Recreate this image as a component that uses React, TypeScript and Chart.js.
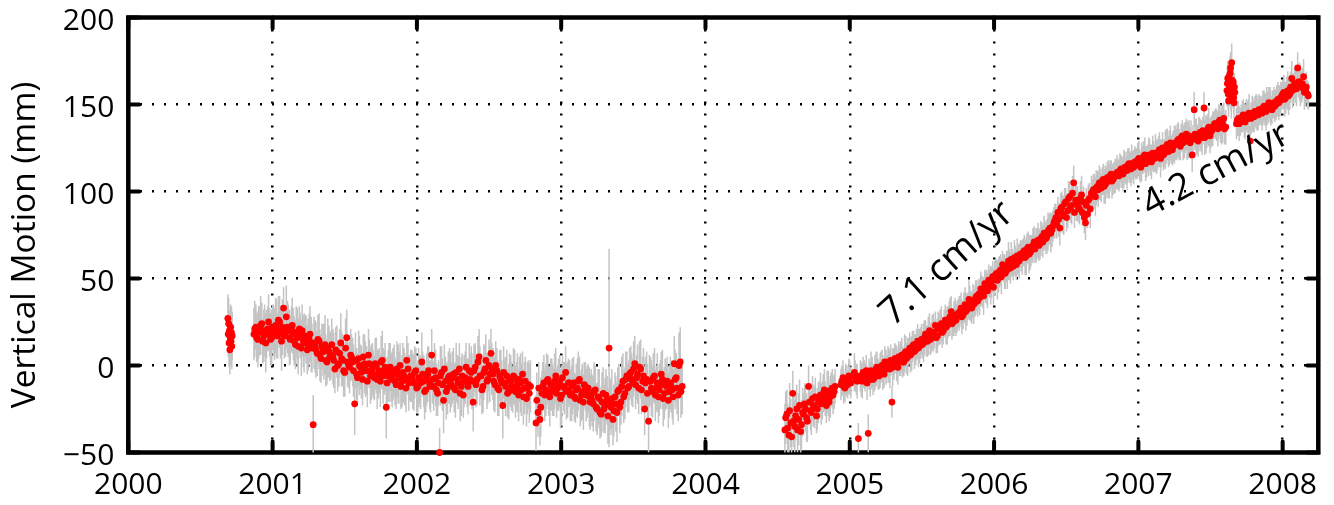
import React, { useEffect, useRef } from 'react';
import { Chart, registerables } from 'chart.js';

Chart.register(...registerables);

// ---- axis / label data ----
const yearTicks = [2000, 2001, 2002, 2003, 2004, 2005, 2006, 2007, 2008];
const motionTicks = [-50, 0, 50, 100, 150, 200];
const xMin = 2000;
const xMax = 2008.247;
const yMin = -50;
const yMax = 200;
const yAxisTitle = 'Vertical Motion (mm)';
const rateLabelEarly = '7.1 cm/yr';
const rateLabelLate = '4.2 cm/yr';
const DAYS_PER_YEAR = 365.25;

// ---- segment A: short campaign late 2000 (days since 2000-01-01) ----
const segADays = [252, 253, 254, 255, 256, 257, 258, 259, 260, 261, 262, 263];
const segAMm = [27, 18, 24, 13, 20, 9, 16, 22, 14, 19, 11, 17];
const segAErr = [14, 13, 15, 14, 12, 14, 16, 13, 14, 15, 13, 14];

// ---- segment B: late 2000 to late 2003 ----
const segBDays = [
  318, 323, 328, 333, 338, 343, 348, 353, 358, 363,
  368, 373, 378, 383, 388, 393, 398, 403, 408, 413,
  418, 423, 428, 433, 438, 443, 448, 453, 458, 463,
  468, 473, 478, 483, 488, 493, 498, 503, 508, 513,
  518, 523, 528, 533, 538, 543, 548, 553, 558, 563,
  568, 573, 578, 583, 588, 593, 598, 603, 608, 613,
  618, 623, 628, 633, 638, 643, 648, 653, 658, 663,
  668, 673, 678, 683, 688, 693, 698, 703, 708, 713,
  718, 723, 728, 733, 738, 743, 748, 753, 758, 763,
  768, 773, 778, 783, 788, 793, 798, 803, 808, 813,
  818, 823, 828, 833, 838, 843, 848, 853, 858, 863,
  868, 873, 878, 883, 888, 893, 898, 903, 908, 913,
  918, 923, 928, 933, 938, 943, 948, 953, 958, 963,
  968, 973, 978, 983, 988, 993, 998, 1003, 1008, 1013,
  1018, 1032, 1037, 1042, 1047, 1052, 1057, 1062, 1067,
  1072, 1077, 1082, 1087, 1092, 1097, 1102, 1107, 1112, 1117,
  1122, 1127, 1132, 1137, 1142, 1147, 1152, 1157, 1162, 1167,
  1172, 1177, 1182, 1187, 1192, 1197, 1202, 1207, 1212, 1217,
  1222, 1227, 1232, 1237, 1242, 1247, 1252, 1257, 1262, 1267,
  1272, 1277, 1282, 1287, 1292, 1297, 1302, 1307, 1312, 1317,
  1322, 1327, 1332, 1337, 1342, 1347, 1352, 1357, 1362, 1367,
  1372, 1377, 1382, 1387, 1392, 1397, 1402,
];
const segBMm = [
  18, 22, 15, 20, 24, 17, 13, 21, 19, 16,
  20, 23, 17, 25, 14, 33, 19, 22, 16, 21,
  18, 12, 16, 21, 10, 14, 17, 9, 15, 12,
  -34, 11, 7, 14, 4, 9, 12, 2, 8, 6,
  5, -2, 8, 1, 13, 3, -4, 16, 0, 6,
  2, -22, -5, 4, -1, -8, 1, -3, 6, -6,
  -2, -7, 0, -5, -9, 3, -4, -24, -6, -1,
  -8, -3, -11, -5, 0, -9, -6, -13, -2, -7,
  -6, -10, -3, -12, -8, 2, -9, -14, -5, -11,
  6, -12, -7, -16, -50, -4, -20, -9, -13, -6,
  -11, -5, -14, -8, -2, -12, -17, -7, -10, -3,
  -4, -21, -1, -8, 5, -6, -12, -2, -9, 0,
  7, -5, -11, -3, -14, -8, -23, -10, -6, -15,
  -9, -14, -7, -12, -17, -10, -5, -13, -19, -11,
  -12, -33, -27, -31, -16, -10, -14, -8, -18,
  -11, -15, -6, -13, -9, -17, -12, -4, -14, -10,
  -16, -10, -19, -13, -8, -17, -21, -12, -15, -18,
  -17, -22, -14, -25, -19, -28, -16, -23, -20, 10,
  -24, -31, -18, -27, -14, -21, -9, -16, -6, -12,
  -4, -10, 1, -7, -13, -2, -9, -25, -8, -32,
  -9, -15, -6, -13, -18, -11, -8, -16, -12, -20,
  -10, -14, 1, -7, -17, 2, -12,
];
const segBErr = [
  15, 13, 16, 14, 12, 15, 17, 13, 14, 16,
  14, 16, 13, 15, 17, 12, 14, 15, 16, 13,
  15, 14, 17, 13, 16, 15, 12, 14, 15, 16,
  17, 15, 13, 16, 14, 15, 17, 13, 15, 14,
  16, 14, 15, 13, 17, 15, 14, 16, 13, 15,
  14, 18, 15, 16, 13, 15, 17, 14, 15, 16,
  15, 13, 16, 14, 15, 17, 13, 18, 15, 14,
  16, 15, 14, 17, 13, 15, 16, 14, 15, 13,
  15, 16, 13, 15, 14, 17, 15, 13, 16, 14,
  15, 14, 16, 13, 14, 15, 19, 14, 15, 16,
  13, 15, 16, 14, 15, 17, 13, 15, 14, 16,
  15, 17, 14, 15, 16, 13, 15, 14, 16, 15,
  14, 15, 16, 13, 15, 17, 19, 14, 15, 16,
  15, 13, 16, 14, 15, 17, 13, 15, 16, 14,
  15, 16, 14, 15, 13, 16, 15, 14, 17,
  15, 14, 16, 13, 15, 17, 14, 15, 16, 13,
  16, 15, 14, 17, 13, 15, 16, 14, 15, 17,
  15, 16, 14, 15, 17, 13, 15, 16, 14, 57,
  16, 15, 14, 17, 15, 13, 16, 15, 14, 15,
  15, 14, 16, 13, 15, 17, 14, 15, 16, 18,
  14, 15, 16, 13, 15, 14, 17, 15, 13, 16,
  15, 17, 16, 14, 15, 20, 16,
];
// in-between daily solutions for segment B
const segB2Days = [
  320, 325, 330, 335, 340, 345, 350, 355, 360, 365,
  370, 375, 380, 385, 390, 395, 400, 405, 410, 415,
  420, 425, 430, 435, 440, 445, 450, 455, 460, 465,
  470, 475, 480, 485, 490, 495, 500, 505, 510, 515,
  520, 525, 530, 535, 540, 545, 550, 555, 560, 565,
  570, 575, 580, 585, 590, 595, 600, 605, 610, 615,
  620, 625, 630, 635, 640, 645, 650, 655, 660, 665,
  670, 675, 680, 685, 690, 695, 700, 705, 710, 715,
  720, 725, 730, 735, 740, 745, 750, 755, 760, 765,
  770, 775, 780, 785, 790, 795, 800, 805, 810, 815,
  820, 825, 830, 835, 840, 845, 850, 855, 860, 865,
  870, 875, 880, 885, 890, 895, 900, 905, 910, 915,
  920, 925, 930, 935, 940, 945, 950, 955, 960, 965,
  970, 975, 980, 985, 990, 995, 1000, 1005, 1010, 1015,
  1034, 1039, 1044, 1049, 1054, 1059, 1064, 1069,
  1074, 1079, 1084, 1089, 1094, 1099, 1104, 1109, 1114, 1119,
  1124, 1129, 1134, 1139, 1144, 1149, 1154, 1159, 1164, 1169,
  1174, 1179, 1184, 1189, 1194, 1199, 1204, 1209, 1214, 1219,
  1224, 1229, 1234, 1239, 1244, 1249, 1254, 1259, 1264, 1269,
  1274, 1279, 1284, 1289, 1294, 1299, 1304, 1309, 1314, 1319,
  1324, 1329, 1334, 1339, 1344, 1349, 1354, 1359, 1364, 1369,
  1374, 1379, 1384, 1389, 1394, 1399,
];
const segB2Mm = [
  21, 16, 19, 23, 14, 20, 18, 25, 15, 22,
  18, 21, 26, 19, 22, 17, 28, 20, 15, 23,
  14, 19, 11, 17, 20, 13, 15, 12, 18, 10,
  13, 9, 15, 6, 11, 8, 3, 10, 5, 12,
  3, 9, 0, 7, 4, -3, 10, 2, -1, 5,
  -3, 3, -7, 0, -4, 5, -2, -9, 1, -4,
  -5, 1, -8, -3, 2, -6, -1, -10, -4, -7,
  -5, -9, -2, -7, -12, -4, -8, 3, -10, -6,
  -9, -4, -13, -7, -10, -5, -15, -8, -3, -12,
  -8, -3, -14, -10, -6, -11, -2, -15, -7, -10,
  -7, -13, -4, -10, -16, -6, -9, -1, -12, -8,
  -9, -3, -11, 2, -6, -14, -4, 3, -8, -5,
  -2, -9, 0, -13, -6, -10, -4, -12, -16, -8,
  -12, -6, -15, -10, -8, -14, -18, -9, -13, -16,
  -20, -13, -24, -12, -17, -9, -15, -11,
  -14, -9, -16, -11, -19, -7, -13, -15, -10, -17,
  -12, -18, -14, -9, -20, -15, -11, -17, -13, -21,
  -20, -15, -24, -18, -27, -21, -25, -17, -29, -22,
  -19, -26, -22, -15, -24, -12, -18, -8, -13, -5,
  -8, -2, -11, -5, -1, -14, -6, -10, -16, -9,
  -13, -7, -17, -10, -14, -5, -19, -11, -9, -15,
  -12, -18, -8, -13, 0, -15,
];
const segB2Err = [
  16, 14, 15, 17, 13, 15, 14, 16, 15, 13,
  15, 17, 14, 15, 16, 13, 18, 15, 14, 16,
  14, 15, 16, 13, 15, 17, 14, 15, 16, 14,
  15, 16, 14, 15, 13, 16, 15, 17, 14, 15,
  16, 13, 15, 14, 16, 15, 17, 14, 15, 13,
  15, 16, 14, 17, 15, 13, 16, 15, 14, 16,
  14, 15, 17, 13, 15, 16, 14, 15, 17, 14,
  15, 14, 16, 15, 13, 17, 15, 14, 16, 15,
  16, 15, 14, 17, 15, 13, 16, 15, 14, 15,
  14, 16, 15, 13, 17, 15, 14, 16, 15, 17,
  15, 14, 17, 15, 16, 13, 15, 14, 16, 15,
  16, 15, 13, 15, 17, 14, 16, 15, 14, 16,
  15, 17, 14, 16, 15, 13, 15, 17, 14, 15,
  14, 16, 15, 17, 13, 15, 16, 14, 15, 17,
  16, 15, 17, 14, 15, 16, 14, 15,
  15, 16, 14, 15, 17, 13, 15, 16, 14, 15,
  16, 14, 15, 17, 15, 16, 13, 15, 14, 16,
  15, 17, 14, 16, 15, 17, 14, 15, 16, 15,
  17, 15, 16, 14, 15, 17, 15, 16, 14, 15,
  15, 16, 14, 17, 15, 14, 16, 15, 17, 15,
  16, 14, 15, 17, 15, 13, 16, 15, 14, 15,
  15, 16, 17, 15, 19, 15,
];

// ---- segment C: mid/late 2004 ----
const segCDays = [
  1662, 1667, 1672, 1677, 1682, 1687, 1692, 1697, 1702, 1707,
  1712, 1717, 1722, 1727, 1732, 1737, 1742, 1747, 1752, 1757,
  1762, 1767, 1772, 1777, 1782, 1787,
];
const segCMm = [
  -37, -28, -40, -33, -16, -35, -25, -31, -38, -27,
  -22, -30, -12, -26, -19, -24, -29, -21, -17, -20,
  -14, -23, -16, -18, -13, -15,
];
const segCErr = [
  15, 14, 16, 14, 13, 15, 14, 15, 13, 14,
  12, 14, 12, 11, 13, 12, 10, 12, 13, 11,
  12, 10, 13, 12, 11, 10,
];
const segC2Days = [
  1664, 1669, 1674, 1679, 1684, 1689, 1694, 1699, 1704, 1709,
  1714, 1719, 1724, 1729, 1734, 1739, 1744, 1749, 1754, 1759,
  1764, 1769, 1774, 1779, 1784, 1789,
];
const segC2Mm = [
  -30, -36, -26, -41, -32, -29, -37, -23, -34, -28,
  -25, -32, -21, -27, -23, -18, -25, -20, -22, -16,
  -19, -15, -21, -14, -17, -12,
];
const segC2Err = [
  15, 14, 16, 13, 15, 14, 13, 15, 14, 12,
  13, 12, 11, 13, 12, 11, 12, 10, 12, 11,
  10, 12, 11, 10, 11, 10,
];

// ---- segment D: 2005 to early 2008 ----
const segDDays = [
  1804, 1809, 1814, 1819, 1824, 1829, 1838, 1843, 1848,
  1853, 1858, 1863, 1868, 1873, 1878, 1883, 1888, 1893, 1898,
  1903, 1908, 1913, 1918, 1923, 1928, 1933, 1938, 1943, 1948,
  1953, 1958, 1963, 1968, 1973, 1978, 1983, 1988, 1993, 1998,
  2003, 2008, 2013, 2018, 2023, 2028, 2033, 2038, 2043, 2048,
  2053, 2058, 2063, 2068, 2073, 2078, 2083, 2088, 2093, 2098,
  2103, 2108, 2113, 2118, 2123, 2128, 2133, 2138, 2143, 2148,
  2153, 2158, 2163, 2168, 2173, 2178, 2183, 2188, 2193, 2198,
  2203, 2208, 2213, 2218, 2223, 2228, 2233, 2238, 2243, 2248,
  2253, 2258, 2263, 2268, 2273, 2278, 2283, 2288, 2293, 2298,
  2303, 2308, 2313, 2318, 2323, 2328, 2333, 2338, 2343, 2348,
  2353, 2358, 2363, 2368, 2373, 2378, 2383, 2388, 2393, 2398,
  2403, 2408, 2413, 2418, 2423, 2428, 2433, 2438, 2443, 2448,
  2453, 2458, 2463, 2468, 2473, 2478, 2483, 2488, 2493, 2498,
  2503, 2508, 2513, 2518, 2523, 2528, 2533, 2538, 2543, 2548,
  2553, 2558, 2563, 2568, 2573, 2578, 2583, 2588, 2593, 2598,
  2603, 2608, 2613, 2618, 2623, 2628, 2633, 2638, 2643, 2648,
  2653, 2658, 2663, 2668, 2673, 2678, 2683, 2688, 2693, 2698,
  2703, 2708, 2713, 2718, 2723, 2728, 2733, 2738, 2743, 2748,
  2753, 2758, 2763, 2768, 2773, 2778,
  2781, 2783, 2785, 2787, 2789, 2791, 2793, 2795, 2797, 2799, 2801,
  2805, 2810, 2815, 2820, 2825, 2830, 2835, 2840, 2845, 2850,
  2855, 2860, 2865, 2870, 2875, 2880, 2885, 2890, 2895, 2900,
  2905, 2910, 2915, 2920, 2925, 2930, 2935, 2940, 2945, 2950,
  2955, 2960, 2965, 2970, 2975, 2980, 2985,
];
const segDMm = [
  -11, -7, -13, -9, -6, -10, -4, -8, -42,
  -6, -9, -5, -3, -39, -8, -4, -7, -2, -5,
  -3, 0, -5, -1, 2, -2, -21, 1, 4, -1,
  3, 6, 2, 8, 5, 10, 7, 12, 9, 14,
  11, 15, 13, 18, 14, 20, 16, 19, 23, 17,
  21, 24, 20, 26, 23, 27, 31, 25, 29, 28,
  30, 33, 29, 35, 32, 38, 34, 37, 36, 40,
  41, 44, 42, 47, 45, 49, 46, 51, 50, 53,
  52, 55, 58, 54, 57, 60, 56, 59, 62, 58,
  61, 64, 62, 66, 63, 68, 65, 67, 71, 69,
  72, 70, 74, 76, 73, 77, 79, 78, 82, 85,
  88, 79, 91, 86, 94, 89, 97, 92, 105, 95,
  93, 90, 98, 94, 82, 87, 96, 99, 101, 97,
  103, 105, 102, 107, 104, 108, 106, 110, 107, 109,
  111, 109, 113, 110, 114, 112, 116, 113, 115, 117,
  116, 119, 114, 118, 121, 117, 120, 118, 122, 119,
  120, 123, 119, 125, 122, 126, 123, 128, 124, 127,
  127, 130, 126, 132, 129, 133, 130, 128, 121, 147,
  132, 129, 134, 131, 148, 133, 136, 132, 135, 138,
  139, 136, 141, 138, 142, 137,
  158, 165, 152, 161, 168, 155, 174, 160, 163, 151, 157,
  139, 142, 140, 143, 141, 144, 142, 129, 145, 143,
  146, 144, 147, 145, 149, 146, 148, 150, 147, 151,
  150, 153, 152, 155, 157, 154, 158, 156, 165, 159,
  161, 171, 163, 160, 166, 158, 156,
];
const segDErr = [
  9, 10, 8, 9, 10, 9, 11, 9, 9,
  9, 10, 8, 9, 11, 10, 9, 8, 10, 9,
  10, 9, 8, 10, 9, 11, 9, 9, 8, 10,
  9, 10, 8, 9, 11, 9, 10, 8, 9, 10,
  10, 9, 11, 8, 9, 10, 9, 11, 8, 10,
  9, 10, 8, 9, 11, 10, 9, 8, 10, 9,
  10, 9, 8, 10, 9, 11, 9, 10, 8, 9,
  9, 10, 9, 8, 10, 9, 11, 9, 10, 8,
  10, 9, 8, 10, 9, 11, 9, 8, 10, 9,
  9, 8, 10, 9, 11, 9, 10, 8, 9, 10,
  10, 9, 8, 10, 9, 11, 9, 10, 9, 8,
  9, 10, 9, 11, 8, 10, 9, 11, 10, 9,
  10, 9, 11, 9, 10, 8, 9, 10, 9, 11,
  9, 10, 8, 9, 11, 9, 10, 8, 9, 10,
  10, 9, 8, 10, 9, 11, 9, 10, 8, 9,
  9, 10, 9, 8, 10, 9, 11, 9, 10, 8,
  10, 9, 11, 9, 8, 10, 9, 10, 9, 11,
  9, 10, 8, 9, 10, 9, 11, 9, 10, 10,
  10, 9, 8, 10, 9, 11, 9, 10, 9, 8,
  9, 10, 9, 11, 9, 10,
  9, 10, 9, 8, 10, 9, 11, 9, 10, 9, 8,
  9, 10, 8, 9, 10, 9, 11, 9, 10, 9,
  10, 9, 8, 10, 9, 11, 9, 10, 8, 9,
  9, 10, 9, 8, 10, 9, 11, 9, 10, 9,
  10, 9, 11, 9, 10, 9, 8,
];
// in-between daily solutions for segment D
const segD2Days = [
  1806, 1811, 1816, 1821, 1826, 1840, 1845,
  1855, 1860, 1865, 1870, 1875, 1880, 1885, 1890, 1895, 1900,
  1905, 1910, 1915, 1920, 1925, 1930, 1935, 1940, 1945, 1950,
  1955, 1960, 1965, 1970, 1975, 1980, 1985, 1990, 1995, 2000,
  2005, 2010, 2015, 2020, 2025, 2030, 2035, 2040, 2045, 2050,
  2055, 2060, 2065, 2070, 2075, 2080, 2085, 2090, 2095, 2100,
  2105, 2110, 2115, 2120, 2125, 2130, 2135, 2140, 2145, 2150,
  2155, 2160, 2165, 2170, 2175, 2180, 2185, 2190, 2195, 2200,
  2205, 2210, 2215, 2220, 2225, 2230, 2235, 2240, 2245, 2250,
  2255, 2260, 2265, 2270, 2275, 2280, 2285, 2290, 2295, 2300,
  2305, 2310, 2315, 2320, 2325, 2330, 2335, 2340, 2345, 2350,
  2355, 2360, 2365, 2370, 2375, 2380, 2385, 2390, 2395, 2400,
  2405, 2410, 2415, 2420, 2425, 2430, 2435, 2440, 2445, 2450,
  2455, 2460, 2465, 2470, 2475, 2480, 2485, 2490, 2495, 2500,
  2505, 2510, 2515, 2520, 2525, 2530, 2535, 2540, 2545, 2550,
  2555, 2560, 2565, 2570, 2575, 2580, 2585, 2590, 2595, 2600,
  2605, 2610, 2615, 2620, 2625, 2630, 2635, 2640, 2645, 2650,
  2655, 2660, 2665, 2670, 2675, 2680, 2685, 2690, 2695, 2700,
  2705, 2710, 2715, 2720, 2725, 2730, 2735, 2740, 2745, 2750,
  2755, 2760, 2765, 2770, 2775,
  2782, 2784, 2786, 2788, 2790, 2792, 2794, 2796, 2798, 2800,
  2807, 2812, 2817, 2822, 2827, 2832, 2837, 2842, 2847, 2852,
  2857, 2862, 2867, 2872, 2877, 2882, 2887, 2892, 2897, 2902,
  2907, 2912, 2917, 2922, 2927, 2932, 2937, 2942, 2947, 2952,
  2957, 2962, 2967, 2972, 2977, 2982, 2987,
];
const segD2Mm = [
  -9, -12, -8, -11, -7, -6, -9,
  -8, -4, -7, -10, -5, -3, -8, -4, -1, -6,
  -1, -4, 2, -2, 0, 3, -1, 4, 1, 5,
  4, 2, 7, 4, 8, 6, 11, 8, 12, 10,
  13, 12, 16, 14, 17, 15, 19, 18, 16, 21,
  22, 19, 24, 22, 25, 28, 24, 27, 26, 30,
  31, 28, 33, 31, 34, 36, 33, 35, 39, 37,
  39, 43, 40, 45, 43, 47, 48, 45, 52, 49,
  54, 51, 56, 53, 55, 58, 61, 57, 60, 63,
  60, 63, 65, 62, 67, 64, 66, 69, 67, 70,
  69, 73, 71, 75, 74, 78, 76, 80, 83, 81,
  84, 90, 87, 93, 85, 96, 91, 99, 88, 94,
  91, 96, 88, 85, 92, 95, 90, 98, 100, 102,
  101, 104, 106, 103, 105, 107, 109, 106, 108, 110,
  110, 112, 111, 113, 112, 115, 114, 116, 114, 116,
  118, 115, 117, 120, 116, 119, 121, 117, 120, 122,
  121, 124, 122, 121, 124, 127, 125, 124, 126, 128,
  129, 127, 131, 128, 131, 129, 132, 131, 130, 133,
  130, 133, 132, 135, 131, 134, 137, 134, 136, 139,
  138, 140, 137, 139, 136,
  162, 156, 166, 159, 171, 153, 164, 158, 154, 160,
  141, 139, 142, 144, 140, 143, 145, 142, 144, 146,
  145, 147, 146, 148, 147, 149, 151, 148, 150, 149,
  152, 151, 154, 156, 153, 157, 155, 160, 158, 162,
  159, 163, 160, 162, 157, 160, 155,
];
const segD2Err = [
  9, 10, 9, 8, 10, 9, 10,
  10, 9, 8, 10, 9, 11, 9, 10, 9, 8,
  9, 10, 9, 8, 10, 9, 11, 9, 10, 9,
  10, 9, 11, 9, 8, 10, 9, 10, 9, 11,
  9, 8, 10, 9, 11, 9, 10, 8, 9, 10,
  10, 9, 8, 10, 9, 11, 9, 10, 9, 8,
  9, 10, 9, 11, 8, 10, 9, 11, 10, 9,
  10, 9, 11, 9, 10, 8, 9, 10, 9, 11,
  9, 10, 8, 9, 11, 9, 10, 8, 9, 10,
  10, 9, 8, 10, 9, 11, 9, 10, 8, 9,
  9, 10, 9, 8, 10, 9, 11, 9, 10, 8,
  10, 9, 11, 9, 8, 10, 9, 10, 9, 11,
  9, 10, 8, 9, 10, 9, 11, 9, 10, 10,
  10, 9, 8, 10, 9, 11, 9, 10, 9, 8,
  9, 10, 9, 11, 8, 10, 9, 11, 10, 9,
  10, 9, 11, 9, 10, 8, 9, 10, 9, 11,
  9, 10, 8, 9, 11, 9, 10, 8, 9, 10,
  10, 9, 8, 10, 9, 11, 9, 10, 8, 9,
  9, 10, 9, 8, 10, 9, 11, 9, 10, 8,
  9, 10, 9, 11, 9,
  10, 9, 8, 10, 9, 11, 9, 10, 9, 8,
  9, 10, 8, 9, 10, 9, 11, 9, 10, 9,
  10, 9, 8, 10, 9, 11, 9, 10, 8, 9,
  9, 10, 9, 8, 10, 9, 11, 9, 10, 9,
  10, 9, 11, 9, 10, 9, 8,
];

const segments = [
  { days: segADays, mm: segAMm, err: segAErr },
  { days: segBDays, mm: segBMm, err: segBErr },
  { days: segB2Days, mm: segB2Mm, err: segB2Err },
  { days: segCDays, mm: segCMm, err: segCErr },
  { days: segC2Days, mm: segC2Mm, err: segC2Err },
  { days: segDDays, mm: segDMm, err: segDErr },
  { days: segD2Days, mm: segD2Mm, err: segD2Err },
];

const FONT = '"Open Sans", "DejaVu Sans", sans-serif';

function buildPoints() {
  const pts: { x: number; y: number }[] = [];
  const bars: { x: number; y: number }[] = [];
  for (const s of segments) {
    const n = Math.min(s.days.length, s.mm.length, s.err.length);
    for (let i = 0; i < n; i++) {
      const x = 2000 + s.days[i] / DAYS_PER_YEAR;
      pts.push({ x, y: s.mm[i] });
      bars.push({ x, y: s.mm[i] - s.err[i] });
      bars.push({ x, y: s.mm[i] + s.err[i] });
      bars.push({ x, y: NaN });
    }
  }
  return { pts, bars };
}

const framePlugin = {
  id: 'frameAndTicks',
  beforeDatasetsDraw(chart: any) {
    const { ctx, chartArea, scales } = chart;
    const { left, top, right, bottom } = chartArea;
    ctx.save();
    ctx.strokeStyle = '#000';
    ctx.lineWidth = 4.5;
    ctx.lineJoin = 'miter';
    ctx.strokeRect(left, top, right - left, bottom - top);
    ctx.lineWidth = 4;
    ctx.lineCap = 'round';
    const len = 11;
    for (const v of yearTicks) {
      const px = scales.x.getPixelForValue(v);
      ctx.beginPath();
      ctx.moveTo(px, bottom);
      ctx.lineTo(px, bottom - len);
      ctx.moveTo(px, top);
      ctx.lineTo(px, top + len);
      ctx.stroke();
    }
    for (const v of motionTicks) {
      const py = scales.y.getPixelForValue(v);
      ctx.beginPath();
      ctx.moveTo(left, py);
      ctx.lineTo(left + len, py);
      ctx.moveTo(right, py);
      ctx.lineTo(right - len, py);
      ctx.stroke();
    }
    ctx.restore();
  },
  afterDraw(chart: any) {
    const { ctx } = chart;
    ctx.save();
    ctx.fillStyle = '#000';
    ctx.font = `33.5px ${FONT}`;
    ctx.textAlign = 'center';
    ctx.textBaseline = 'alphabetic';
    ctx.translate(35, 245);
    ctx.rotate(-Math.PI / 2);
    ctx.fillText(yAxisTitle, 0, 0);
    ctx.restore();

    ctx.save();
    ctx.fillStyle = '#000';
    ctx.font = `38px ${FONT}`;
    ctx.textAlign = 'left';
    ctx.textBaseline = 'alphabetic';
    ctx.translate(893, 327);
    ctx.rotate((-42 * Math.PI) / 180);
    ctx.fillText(rateLabelEarly, 0, 0);
    ctx.restore();

    ctx.save();
    ctx.fillStyle = '#000';
    ctx.font = `37px ${FONT}`;
    ctx.textAlign = 'left';
    ctx.textBaseline = 'alphabetic';
    ctx.translate(1150, 217);
    ctx.rotate((-28 * Math.PI) / 180);
    ctx.fillText(rateLabelLate, 0, 0);
    ctx.restore();
  },
};

export default function App() {
  const ref = useRef<HTMLCanvasElement | null>(null);
  useEffect(() => {
    if (!ref.current) return;
    const { pts, bars } = buildPoints();
    const chart = new Chart(ref.current, {
      type: 'scatter',
      data: {
        datasets: [
          {
            label: 'GPS vertical',
            data: pts,
            showLine: false,
            pointRadius: 3.4,
            pointHoverRadius: 3.4,
            pointBackgroundColor: '#ff0000',
            pointBorderWidth: 0,
            pointBorderColor: '#ff0000',
            order: 0,
            clip: 6,
          } as any,
          {
            label: 'error',
            data: bars,
            showLine: true,
            spanGaps: false,
            borderColor: '#c4c4c4',
            borderWidth: 1.5,
            pointRadius: 0,
            pointHoverRadius: 0,
            order: 1,
          } as any,
        ],
      },
      options: {
        responsive: false,
        animation: false,
        devicePixelRatio: 1,
        events: [],
        layout: { autoPadding: false, padding: { top: 17.5, right: 15.7, left: 0, bottom: 0 } },
        plugins: {
          legend: { display: false },
          tooltip: { enabled: false },
        },
        scales: {
          x: {
            type: 'linear',
            min: xMin,
            max: xMax,
            afterFit: (s: any) => {
              s.height = 52.5;
              s.paddingLeft = 0;
              s.paddingRight = 0;
              s.paddingTop = 0;
              s.paddingBottom = 0;
            },
            afterBuildTicks: (s: any) => {
              s.ticks = yearTicks.map((v) => ({ value: v }));
            },
            ticks: {
              autoSkip: false,
              maxRotation: 0,
              padding: 15,
              color: '#000',
              font: { family: FONT, size: 30 },
              callback: (v: any) => String(v),
            },
            grid: { color: '#000', lineWidth: 2.5, drawTicks: false },
            border: { display: false, dash: [2, 10] },
          },
          y: {
            type: 'linear',
            min: yMin,
            max: yMax,
            afterFit: (s: any) => {
              s.width = 128.3;
              s.paddingLeft = 0;
              s.paddingRight = 0;
              s.paddingTop = 0;
              s.paddingBottom = 0;
            },
            afterBuildTicks: (s: any) => {
              s.ticks = motionTicks.map((v) => ({ value: v }));
            },
            ticks: {
              autoSkip: false,
              padding: 14,
              labelOffset: 4,
              color: '#000',
              font: { family: FONT, size: 30 },
              callback: (v: any) => (v < 0 ? '\u2212' + Math.abs(v) : String(v)),
            },
            grid: { color: '#000', lineWidth: 2.5, drawTicks: false },
            border: { display: false, dash: [2, 10] },
          },
        },
      } as any,
      plugins: [framePlugin],
    });
    return () => chart.destroy();
  }, []);
  return (
    <div style={{ position: 'fixed', left: 0, top: 0, width: 1334, height: 505, background: '#fff' }}>
      <canvas ref={ref} width={1334} height={505} style={{ display: 'block' }} />
    </div>
  );
}
